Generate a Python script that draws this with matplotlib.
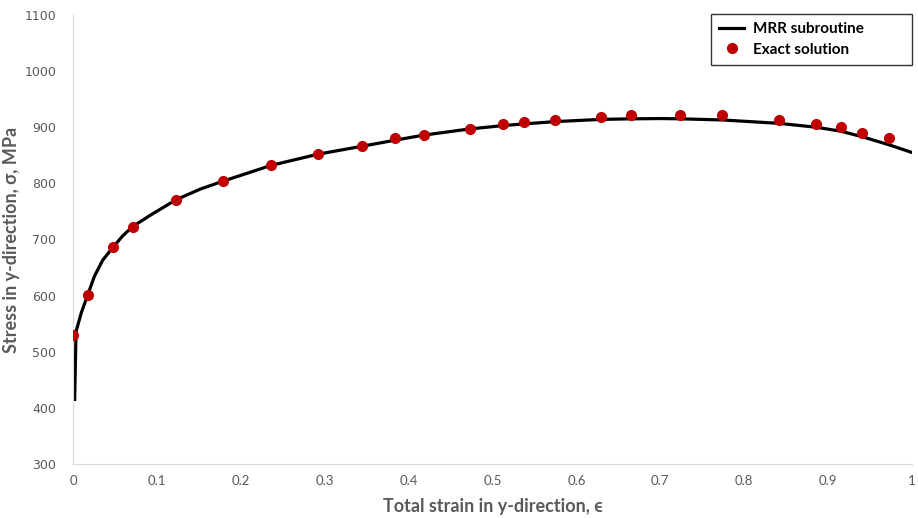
import matplotlib.pyplot as plt

# MRR subroutine curve
line_x = [0.002, 0.0036, 0.01, 0.0175, 0.0254, 0.0353, 0.047, 0.059, 0.071, 0.093, 0.123,
          0.152, 0.179, 0.236, 0.292, 0.344, 0.384, 0.418, 0.473, 0.513, 0.538, 0.574,
          0.629, 0.665, 0.7, 0.724, 0.774, 0.841, 0.886, 0.915, 0.941, 0.972, 1.0]
line_y = [415, 536, 570, 601, 634, 663, 685, 706, 723, 744, 771,
          790, 804, 832, 852, 866, 877, 886, 897, 903, 906, 910,
          914, 915, 915.5, 915, 913, 907, 900, 893, 883, 869, 855]

# exact solution points
exact_x = [0.0, 0.0175, 0.048, 0.071, 0.123, 0.179, 0.236, 0.292, 0.344, 0.384, 0.418,
           0.473, 0.513, 0.538, 0.574, 0.629, 0.665, 0.724, 0.774, 0.841, 0.886,
           0.915, 0.941, 0.972]
exact_y = [530, 601, 687, 723, 771, 805, 833, 853, 867, 881, 887,
           897, 906, 909, 913, 918, 922, 921, 921, 913, 906,
           900, 890, 880]

grey = "#595959"

fig = plt.figure(figsize=(9.18, 5.18), dpi=100)
ax = fig.add_axes([73 / 918, 1 - 464 / 518, 839 / 918, 449 / 518])

ax.plot(line_x, line_y, color="black", lw=2.3, label="MRR subroutine", zorder=2)
ax.plot(exact_x, exact_y, "o", color="#C00000", ms=7, label="Exact solution", zorder=3)

ax.set_xlim(0, 1)
ax.set_ylim(300, 1100)
ax.set_xticks([i / 10 for i in range(11)])
ax.set_xticklabels(["0", "0.1", "0.2", "0.3", "0.4", "0.5", "0.6", "0.7", "0.8", "0.9", "1"],
                   family=["Lato", "DejaVu Sans"], fontsize=9.5, color=grey)
ax.set_yticks(range(300, 1101, 100))
ax.tick_params(axis="y", labelsize=9, labelcolor=grey, length=0, pad=12)
ax.tick_params(axis="x", length=0, pad=8)

for s in ["top", "right"]:
    ax.spines[s].set_visible(False)
for s in ["left", "bottom"]:
    ax.spines[s].set_color("#d9d9d9")

ax.set_xlabel("Total strain in y-direction, ϵ", fontsize=13, fontweight="bold",
              color=grey, family=["Lato", "DejaVu Sans"], labelpad=8)
ax.set_ylabel("Stress in y-direction, σ, MPa", fontsize=13, fontweight="bold",
              color=grey, family=["Lato", "DejaVu Sans"])
ax.yaxis.set_label_coords(-53 / 839, 0.50)

# fixed-size legend box like the Excel one
leg = ax.legend(loc="upper left", bbox_to_anchor=(638 / 839, 399 / 449, 201 / 839, 51 / 449),
                mode="expand", borderaxespad=0, frameon=True, fancybox=False,
                edgecolor="black", handlelength=1.6, handletextpad=0.6, borderpad=0.55,
                labelspacing=0.4,
                prop={"family": ["Lato", "DejaVu Sans"], "weight": "bold", "size": 11})
leg.get_frame().set_linewidth(1.0)

fig.savefig("out.png", dpi=100)
